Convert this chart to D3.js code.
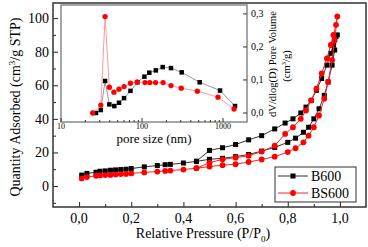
<!DOCTYPE html>
<html>
<head>
<meta charset="utf-8">
<script src="https://cdn.jsdelivr.net/npm/d3@7"></script>
<style>
  body { margin: 0; background: #fff; }
  svg text { font-family: "Liberation Serif", "Times New Roman", "DejaVu Serif", serif; }
</style>
</head>
<body>
<div id="chart"></div>
<script>
// main isotherm, relative pressure values
const p_ads = [0.01, 0.03, 0.065, 0.08, 0.1, 0.12, 0.14, 0.16, 0.18, 0.2, 0.25, 0.3, 0.33, 0.35, 0.4, 0.45,
    0.5, 0.55, 0.6, 0.65, 0.7, 0.75, 0.8, 0.83, 0.86, 0.88, 0.9, 0.92, 0.94, 0.955, 0.97, 0.98, 0.99];
const p_des = [0.985, 0.975, 0.965, 0.95, 0.93, 0.91, 0.89, 0.87, 0.85, 0.82, 0.79, 0.75, 0.7, 0.65, 0.6, 0.55, 0.5, 0.45];

const b600_ads = [6.5, 7.5, 8.2, 8.8, 9, 9.4, 9.6, 9.8, 10, 10.4, 11.4, 12.2, 12.7, 12.9, 13.7, 14.7,
    15.9, 16.5, 17.5, 18.8, 20.8, 23, 26, 28.5, 32, 35, 40, 46, 54, 62, 72, 81, 90];
const b600_des = [89, 84, 79, 72, 64, 57, 51, 47, 43.5, 40, 37.5, 34, 30, 27.5, 24.7, 22.8, 21.2, 14.7];

const bs600_ads = [4.5, 5.3, 6.1, 6.3, 6.5, 6.6, 6.9, 7.1, 7.2, 7.5, 8.1, 8.6, 9, 9.2, 9.8, 10.6,
    11.6, 12.4, 13, 14.3, 15.8, 17.5, 20.2, 22.5, 26, 30, 35, 42, 52, 62, 75, 87, 101];
const bs600_des = [96, 90, 84, 76, 67, 58, 51, 45, 40, 35, 31, 24, 20.5, 18, 16.9, 15.9, 13.9, 10.6];

// inset: pore size distribution
const b600_size = [27, 31, 35, 39.5, 45.5, 52, 60, 72, 88, 107, 123, 148, 180, 228, 309, 515, 918, 1406];
const b600_dv = [0.0, 0.009, 0.097, 0.026, 0.021, 0.031, 0.045, 0.067, 0.093, 0.11, 0.122, 0.129, 0.139, 0.136, 0.123, 0.093, 0.068, 0.021];
const bs600_size = [24.6, 31, 35, 39.5, 45, 52, 60, 72, 87, 109, 125, 147, 182, 228, 305, 482, 867, 1368];
const bs600_dv = [0.0, 0.024, 0.292, 0.078, 0.063, 0.072, 0.080, 0.09, 0.094, 0.092, 0.092, 0.092, 0.092, 0.083, 0.075, 0.066, 0.048, 0.012];

const x_ticks = [0, 0.2, 0.4, 0.6, 0.8, 1.0];
const y_ticks = [0, 20, 40, 60, 80, 100];
const inset_x_ticks = [10, 100, 1000];
const inset_y_ticks = [0, 0.1, 0.2, 0.3];

const width = 368, height = 247;
const comma = v => d3.format(".1f")(v).replace(".", ",");

const svg = d3.select("#chart").append("svg").attr("width", width).attr("height", height);

// ---- main plot ----
const x = d3.scaleLinear().domain([-0.1, 1.1]).range([53, 366]);
const y = d3.scaleLinear().domain([-12.5, 109]).range([207, 3]);

const to_pts = (px, py) => px.map((p, i) => [p, py[i]]);
const series = [
    { name: "B600", pts: to_pts(p_ads, b600_ads).concat(to_pts(p_des, b600_des)), line: "#333", fill: "#000", shape: "square" },
    { name: "BS600", pts: to_pts(p_ads, bs600_ads).concat(to_pts(p_des, bs600_des)), line: "#f22", fill: "#f00", shape: "circle" }
];

const line = d3.line().x(d => x(d[0])).y(d => y(d[1]));

// ticks, pointing inward
const xa = svg.append("g").attr("transform", `translate(0,207)`)
    .call(d3.axisBottom(x).tickValues(d3.range(0, 1.01, 0.1)).tickSize(-5).tickFormat(""));
xa.select(".domain").remove();
xa.selectAll("line").attr("stroke", "#222").attr("y2", (d, i) => i % 2 ? -3 : -5);
svg.append("g").attr("font-size", 14).attr("text-anchor", "middle")
    .selectAll("text").data(x_ticks).join("text")
    .attr("x", d => x(d)).attr("y", 223).text(d => comma(d));

const ya = svg.append("g").attr("transform", `translate(53,0)`)
    .call(d3.axisLeft(y).tickValues(d3.range(-10, 101, 10)).tickSize(-5).tickFormat(""));
ya.select(".domain").remove();
ya.selectAll("line").attr("stroke", "#222").attr("x2", d => d % 20 === 0 ? 5 : 3);
svg.append("g").attr("font-size", 14).attr("text-anchor", "end")
    .selectAll("text").data(y_ticks).join("text")
    .attr("x", 49).attr("y", d => y(d) + 5).text(d => d);

svg.append("rect").attr("x", 53).attr("y", 3).attr("width", 313).attr("height", 204)
    .attr("fill", "none").attr("stroke", "#333").attr("stroke-width", 1.5);

// axis titles
svg.append("text").attr("font-size", 14).attr("text-anchor", "middle")
    .attr("transform", "translate(20,107) rotate(-90)")
    .html('Quantity Adsorbed (cm<tspan dy="-5" font-size="9">3</tspan><tspan dy="5">/g STP)</tspan>');
svg.append("text").attr("font-size", 14).attr("text-anchor", "middle")
    .attr("x", 203).attr("y", 238)
    .html('Relative Pressure (P/P<tspan dy="4" font-size="9">0</tspan><tspan dy="-4">)</tspan>');

const draw_marks = function (g, s, pts, sx, sy, size) {
    if (s.shape === "square") {
        g.selectAll("rect").data(pts).join("rect")
            .attr("x", d => sx(d[0]) - size / 2).attr("y", d => sy(d[1]) - size / 2)
            .attr("width", size).attr("height", size).attr("fill", s.fill);
    } else {
        g.selectAll("circle").data(pts).join("circle")
            .attr("cx", d => sx(d[0])).attr("cy", d => sy(d[1]))
            .attr("r", size / 2 + 0.4).attr("fill", s.fill);
    }
}

series.forEach(s => {
    svg.append("path").attr("d", line(s.pts)).attr("fill", "none").attr("stroke", s.line).attr("stroke-width", 1);
    draw_marks(svg.append("g"), s, s.pts, x, y, 5);
});

// legend
const lg = svg.append("g");
lg.append("rect").attr("x", 275).attr("y", 167).attr("width", 81).attr("height", 35)
    .attr("fill", "#fff").attr("stroke", "#333").attr("stroke-width", 1);
series.forEach((s, i) => {
    const ly = 176 + i * 17;
    lg.append("line").attr("x1", 278).attr("x2", 308).attr("y1", ly).attr("y2", ly).attr("stroke", s.line);
    draw_marks(lg.append("g"), s, [[293, ly]], v => v, v => v, 5);
    lg.append("text").attr("x", 311).attr("y", ly + 5).attr("font-size", 14).text(s.name);
});

// ---- inset ----
const ix = d3.scaleLog().domain([10, 1977]).range([61, 247]);
const iy = d3.scaleLinear().domain([-0.0273, 0.327]).range([122, 5]);

svg.append("rect").attr("x", 61).attr("y", 5).attr("width", 186).attr("height", 117)
    .attr("fill", "#fff").attr("stroke", "#888").attr("stroke-width", 1.5);

const minor_log = [];
[10, 100, 1000].forEach(dec => d3.range(1, 10).forEach(k => { if (dec * k <= 1977) minor_log.push(dec * k); }));
svg.append("g").selectAll("line").data(minor_log).join("line")
    .attr("x1", d => ix(d)).attr("x2", d => ix(d))
    .attr("y1", 122).attr("y2", d => inset_x_ticks.includes(d) ? 118 : 120)
    .attr("stroke", "#333");
svg.append("g").attr("font-size", 8).attr("text-anchor", "middle")
    .selectAll("text").data(inset_x_ticks).join("text")
    .attr("x", d => ix(d)).attr("y", 128.5).text(d => d);
svg.append("text").attr("x", 154).attr("y", 142.5).attr("font-size", 13).attr("text-anchor", "middle").text("pore size (nm)");

svg.append("g").selectAll("line").data(inset_y_ticks).join("line")
    .attr("x1", 247).attr("x2", 243).attr("y1", d => iy(d)).attr("y2", d => iy(d)).attr("stroke", "#333");
svg.append("g").attr("font-size", 10)
    .selectAll("text").data(inset_y_ticks).join("text")
    .attr("x", 251).attr("y", d => iy(d) + 3.5).text(d => comma(d));
svg.append("text").attr("font-size", 10.5).attr("text-anchor", "middle")
    .attr("transform", "translate(276,64) rotate(-90)").text("dV/dlog(D) Pore Volume");
svg.append("text").attr("font-size", 10.5).attr("text-anchor", "middle")
    .attr("transform", "translate(290,66) rotate(-90)")
    .html('(cm<tspan dy="-4" font-size="7">3</tspan><tspan dy="4">/g)</tspan>');

const iline = d3.line().x(d => ix(d[0])).y(d => iy(d[1]));
const inset_series = [
    { pts: to_pts(b600_size, b600_dv), line: "#999", fill: "#000", shape: "square" },
    { pts: to_pts(bs600_size, bs600_dv), line: "#f99", fill: "#f00", shape: "circle" }
];
inset_series.forEach(s => {
    svg.append("path").attr("d", iline(s.pts)).attr("fill", "none").attr("stroke", s.line).attr("stroke-width", 1);
    draw_marks(svg.append("g"), s, s.pts, ix, iy, 4.5);
});
</script>
</body>
</html>
